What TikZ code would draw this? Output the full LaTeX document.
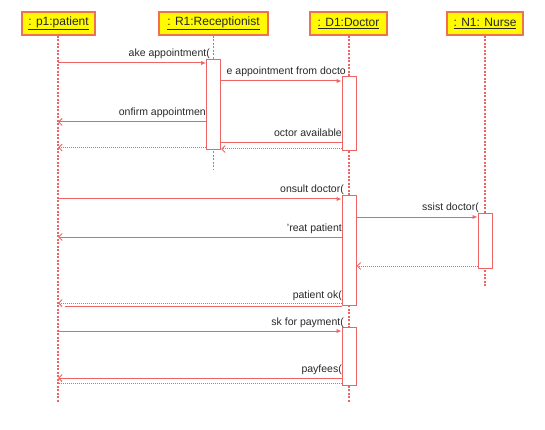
\documentclass[tikz,border=0pt]{standalone}
\usepackage{fontspec}
\setmainfont{Liberation Sans}
\usetikzlibrary{arrows.meta}
\definecolor{ln}{RGB}{236,100,100}
\definecolor{hb}{RGB}{240,112,80}
\definecolor{hy}{RGB}{255,250,0}
\definecolor{tx}{RGB}{40,40,40}
\tikzset{
  head/.style={draw=hb, fill=hy, line width=1.2pt, minimum height=23pt, inner xsep=3pt, inner ysep=0pt, font=\fontsize{12}{14}\selectfont, text=tx},
  life/.style={draw=ln, line width=1.1pt, dash pattern=on 2pt off 1.5pt},
  actbox/.style={draw=ln, fill=white, line width=1pt, minimum width=14pt, inner sep=0pt},
  call/.style={draw=ln, line width=1pt, -{Latex[length=5pt,width=4.5pt]}},
  rep/.style={draw=ln, line width=1pt, -{Straight Barb[length=3.5pt,width=7pt]}},
  plain/.style={draw=ln, line width=1pt},
  ret/.style={draw=ln, line width=1pt, dash pattern=on 1pt off 1pt, -{Straight Barb[length=3.5pt,width=7pt]}},
  retp/.style={draw=ln, line width=1pt, dash pattern=on 1pt off 1pt},
  lbl/.style={anchor=base east, inner sep=0pt, font=\fontsize{10.5}{12}\selectfont, text=tx}
}
\begin{document}
\begin{tikzpicture}[x=1pt,y=-1pt]
\useasboundingbox (0,0) rectangle (545,430);
% lifeline coordinates
\coordinate (pl) at (58,0);
\coordinate (rl) at (213.5,0);
\coordinate (dl) at (349,0);
\coordinate (nl) at (485,0);
% headers
\node[head, minimum width=73pt] (hp) at (58.5,23.5) {\underline{: p1:patient}};
\node[head, minimum width=109pt] (hr) at (213.5,23.5) {\underline{: R1:Receptionist}};
\node[head, minimum width=77pt] (hd) at (348.5,23.5) {\underline{: D1:Doctor}};
\node[head, minimum width=76pt] (hn) at (485,23.5) {\underline{: N1: Nurse}};
% lifelines
\coordinate (pe) at (58,403);
\coordinate (re) at (213.5,170);
\coordinate (de) at (349,403);
\coordinate (ne) at (485,286);
\draw[life] (hp.south -| pl) -- (pe);
\draw[life] (hr.south -| rl) -- (re);
\draw[life] (hd.south -| dl) -- (de);
\draw[life] (hn.south -| nl) -- (ne);
% activation boxes
\node[actbox, minimum height=90pt] (ra) at (213.5,105) {};
\node[actbox, minimum height=74pt] (d1) at (349,114) {};
\node[actbox, minimum height=109pt] (d2) at (349,250.5) {};
\node[actbox, minimum height=58pt] (d3) at (349,356) {};
\node[actbox, minimum height=55pt] (na) at (485,240.5) {};
% messages
\draw[call] (pl |- 0,63) -- (ra.west |- 0,63);
\node[lbl] (l1) at (210,57) {ake appointment(};
\draw[call] (ra.east |- 0,81) -- (d1.west |- 0,81);
\node[lbl] (l2) at (346,75) {e appointment from docto};
\draw[rep] (ra.west |- 0,122) -- (pl |- 0,122);
\node[lbl] (l3) at (206,116) {onfirm appointmen};
\draw[plain] (d1.west |- 0,143) -- (ra.east |- 0,143);
\node[lbl] (l4) at (342,137) {octor available};
\draw[ret] (ra.west |- 0,147.5) -- (pl |- 0,147.5);
\draw[ret] (d1.west |- 0,149) -- (ra.east |- 0,149);
\draw[call] (pl |- 0,199) -- (d2.west |- 0,199);
\node[lbl] (l5) at (344,193) {onsult doctor(};
\draw[call] (d2.east |- 0,217) -- (na.west |- 0,217);
\node[lbl] (l6) at (479,211) {ssist doctor(};
\draw[rep] (d2.west |- 0,237) -- (pl |- 0,237);
\node[lbl] (l7) at (342,231) {'reat patient};
\draw[ret] (na.west |- 0,266) -- (d2.east |- 0,266);
\coordinate (ok) at (65,306);
\draw[ret] (d2.west |- 0,303) -- (pl |- 0,303);
\draw[plain] (ok) -- (d2.west |- ok);
\node[lbl] (l8) at (342,298) {patient ok(};
\draw[call] (pl |- 0,331) -- (d3.west |- 0,331);
\node[lbl] (l9) at (344,325) {sk for payment(};
\draw[rep] (d3.west |- 0,378) -- (pl |- 0,378);
\draw[retp] (d3.west |- 0,383) -- (pl |- 0,383);
\node[lbl] (l10) at (342,372) {payfees(};
\end{tikzpicture}
\end{document}
